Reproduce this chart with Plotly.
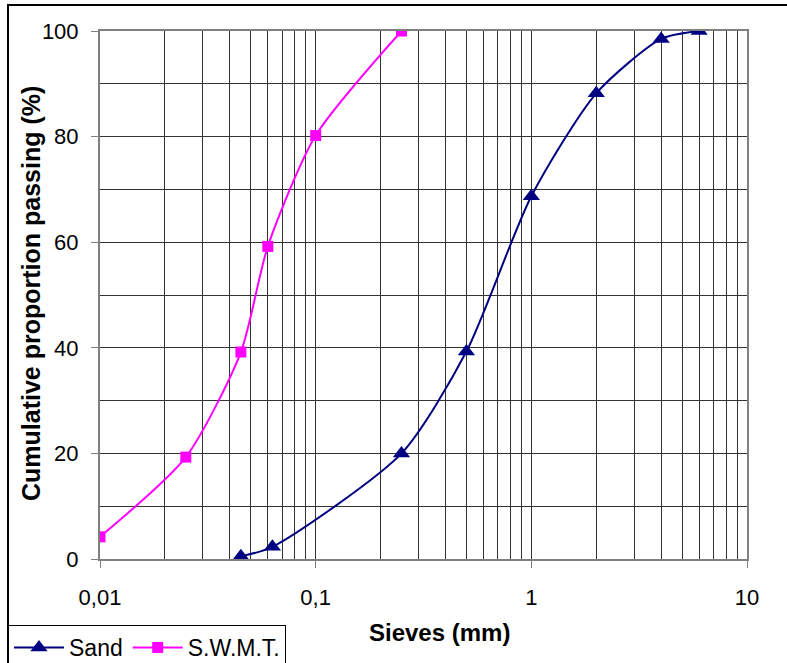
import plotly.graph_objects as go

sand_x = [0.045, 0.063, 0.25, 0.5, 1, 2, 4, 6]
sand_y = [0.5, 2.3, 20, 39.3, 68.7, 88.2, 98.5, 100]
swmt_x = [0.01, 0.025, 0.045, 0.06, 0.1, 0.25]
swmt_y = [4.2, 19.3, 39.2, 59.2, 80.2, 100]

x_major = [0.01, 0.1, 1, 10]
x_major_text = ["0,01", "0,1", "1", "10"]
y_major = [0, 20, 40, 60, 80, 100]

x_minor = [m * d for d in [0.01, 0.1, 1] for m in range(2, 10)]
y_minor = [10, 30, 50, 70, 90]

W, H = 787, 663
L, R, T, B = 100, 747, 31, 559

def px(x):
    return (x - L) / (R - L)

def py(y):
    return (B - y) / (B - T)

fig = go.Figure()
fig.add_trace(go.Scatter(
    x=sand_x, y=sand_y, name="Sand", mode="lines+markers",
    line=dict(color="#000080", width=2, shape="spline", smoothing=0.7),
    marker=dict(symbol="triangle-up", size=15, color="#000080"),
))
fig.add_trace(go.Scatter(
    x=swmt_x, y=swmt_y, name="S.W.M.T.", mode="lines+markers",
    line=dict(color="#FF00FF", width=2, shape="spline", smoothing=0.7),
    marker=dict(symbol="square", size=11, color="#FF00FF"),
))

font = "Liberation Sans, Arial, sans-serif"
grid = "#333333"

fig.update_layout(
    width=W, height=H,
    margin=dict(l=L, r=W - R, t=T, b=H - B, autoexpand=False),
    paper_bgcolor="white", plot_bgcolor="white",
    font=dict(family=font, size=22, color="black"),
    showlegend=True,
    legend=dict(
        orientation="h", xref="container", yref="container",
        x=8 / W, y=1 - 625 / H, xanchor="left", yanchor="top",
        bgcolor="white", bordercolor="black", borderwidth=1,
        font=dict(size=23), itemwidth=50, tracegroupgap=0,
    ),
    xaxis=dict(
        type="log", range=[-2, 1],
        tickvals=x_major, ticktext=x_major_text,
        ticks="outside", ticklen=7, tickcolor="#808080", tickwidth=1,
        ticklabelstandoff=11,
        showgrid=True, gridcolor=grid, gridwidth=1,
        minor=dict(tickvals=x_minor, showgrid=True, gridcolor=grid, gridwidth=1, ticks=""),
        showline=True, linecolor="#808080", linewidth=2, mirror=True,
        zeroline=False, tickfont=dict(size=22), automargin=False,
    ),
    yaxis=dict(
        range=[0, 100], tickvals=y_major,
        ticks="outside", ticklen=7, tickcolor="#808080", tickwidth=1,
        ticklabelstandoff=8,
        showgrid=True, gridcolor=grid, gridwidth=1,
        minor=dict(tickvals=y_minor, showgrid=True, gridcolor=grid, gridwidth=1, ticks=""),
        showline=True, linecolor="#808080", linewidth=2, mirror=True,
        zeroline=False, tickfont=dict(size=22), automargin=False,
    ),
    shapes=[dict(
        type="rect", xref="paper", yref="paper",
        x0=px(8), x1=px(900), y0=py(800), y1=py(5),
        line=dict(color="black", width=2), fillcolor="rgba(0,0,0,0)", layer="below",
    )],
    annotations=[
        dict(text="<b>Sieves (mm)</b>", xref="paper", yref="paper",
             x=px(439), y=py(632), xanchor="center", yanchor="middle",
             showarrow=False, font=dict(size=24)),
        dict(text="<b>Cumulative proportion passing (%)</b>", xref="paper", yref="paper",
             x=px(31), y=py(294), xanchor="center", yanchor="middle",
             textangle=-90, showarrow=False, font=dict(size=25)),
    ],
)

fig.write_html("out.html", config={"displayModeBar": False},
               post_script="document.body.style.margin='0';")
